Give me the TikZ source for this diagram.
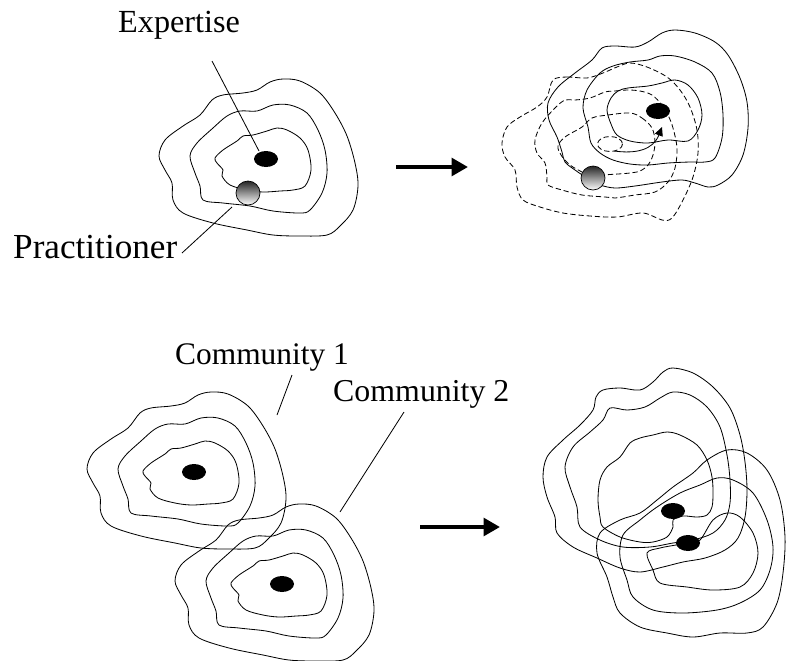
\documentclass[tikz,border=0pt]{standalone}
\usepackage{fontspec}
\setmainfont{Liberation Serif}
\usetikzlibrary{arrows.meta,shapes.geometric}

\begin{document}
\begin{tikzpicture}[x=0.03cm,y=-0.03cm,
  contour/.style={line width=0.7pt, line join=round},
  dcontour/.style={contour, dash pattern=on 4.5pt off 2.5pt},
  smoothloop/.style={smooth cycle, tension=0.55},
  core/.style={ellipse, fill=black, minimum width=0.72cm, minimum height=0.48cm, inner sep=0pt},
  member/.style={circle, draw=black, line width=0.6pt, top color=black!85, bottom color=white,
                 minimum size=0.72cm, inner sep=0pt},
  caption/.style={inner sep=0pt, anchor=base west},
  pointer/.style={line width=0.7pt},
  bigarrow/.style={line width=3.4pt, -{Triangle[length=14pt,width=15pt]}},
  % three nested level lines around one centre of expertise
  community/.pic={
    \draw[contour] plot[smoothloop] coordinates {(4,-77) (17,-80) (34,-78) (54,-66) (69,-46) (81,-23)
      (89,4) (92,27) (87,51) (74,67) (61,76) (34,77) (7,76) (-19,71) (-53,64) (-83,54) (-93,41)
      (-94,24) (-101,11) (-107,-3) (-101,-19) (-83,-33) (-66,-44) (-54,-59) (-43,-64) (-23,-66) (-9,-69)};
    \draw[contour] plot[smoothloop] coordinates {(7,-54) (24,-54) (41,-46) (52,-29) (59,-9) (61,14)
      (56,34) (44,51) (34,54) (7,52) (-16,47) (-43,44) (-63,41) (-66,27) (-71,14) (-76,-3) (-69,-16)
      (-53,-31) (-39,-43) (-26,-48) (-9,-48)};
    \draw[contour] plot[smoothloop] coordinates {(1,-28) (11,-31) (21,-29) (34,-21) (42,-9) (45,11)
      (39,27) (27,31) (14,32) (-3,33) (-19,31) (-36,26) (-44,17) (-43,11) (-49,4) (-51,-1) (-43,-9)
      (-29,-18) (-23,-23) (-13,-24)};
  }
]
\useasboundingbox (0,0) rectangle (786,660);
\clip (0,0) rectangle (786,660);

% ---------- single practitioner inside a community ----------
\pic at (266,159) {community};
\node[core] (core1) at (266,159) {};
\node[member] (member1) at (248,193) {};
\node[caption, font=\fontsize{27.5}{32}\selectfont] (expertise) at (118,32) {Expertise};
\node[caption, font=\fontsize{30}{34}\selectfont] (practitioner) at (13,258) {Practitioner};
\coordinate (expTail) at (212,61);
\coordinate (expHead) at (259,151);
\coordinate (pracHead) at (232,207);
\coordinate (pracTail) at (182,253);
\draw[pointer] (expTail) -- (expHead);
\draw[pointer] (pracHead) -- (pracTail);

\coordinate (a1s) at (396,167);
\coordinate (a1e) at (468,167);
\draw[bigarrow] (a1s) -- (a1e);

% ---------- practitioner moving towards the expertise ----------
\draw[contour] plot[smoothloop] coordinates {(592,60) (602,48) (615,46) (635,47) (648,42) (662,33)
  (675,30) (695,33) (715,42) (728,55) (740,78) (747,102) (748,128) (743,155) (732,175) (718,185)
  (708,187) (695,183) (682,180) (662,182) (635,186) (615,188) (600,185) (590,180) (575,170)
  (565,162) (562,152) (557,137) (549,120) (548,103) (558,87) (575,73)};
\draw[contour] plot[smoothloop] coordinates {(600,73) (613,66) (630,62) (648,60) (660,56) (675,56)
  (695,62) (712,73) (720,92) (723,115) (722,138) (715,158) (705,162) (690,162) (668,163) (648,165)
  (630,164) (613,160) (600,153) (591,143) (588,127) (583,108) (587,90)};
\draw[contour] plot[smoothloop] coordinates {(628,88) (648,86) (662,83) (675,80) (688,85) (698,98)
  (702,115) (698,130) (688,141) (668,140) (648,143) (630,141) (617,135) (611,124) (607,110)
  (611,98) (618,91)};
\draw[dcontour] plot[smoothloop] coordinates {(553,80) (567,77) (587,78) (603,73) (617,67) (630,63)
  (647,67) (667,77) (680,90) (690,107) (697,130) (698,153) (693,177) (683,200) (672,218) (662,220)
  (643,213) (617,217) (590,216) (563,213) (540,207) (523,200) (517,187) (515,170) (505,157)
  (502,143) (507,127) (520,117) (537,107) (547,97)};
\draw[dcontour] plot[smoothloop] coordinates {(605,92) (615,91) (628,90) (640,91) (652,95) (662,105)
  (668,115) (673,128) (677,148) (675,168) (668,182) (655,192) (635,195) (615,198) (605,197)
  (582,195) (562,190) (548,185) (547,177) (545,163) (537,153) (535,140) (542,123) (555,108)
  (565,100) (575,100) (590,98)};
\draw[dcontour] plot[smoothloop] coordinates {(630,113) (642,118) (652,128) (655,142) (653,155)
  (648,165) (640,171) (630,173) (618,174) (605,175) (593,178) (582,172) (570,165) (561,155)
  (558,146) (565,137) (582,127) (592,118) (608,115)};
\draw[dcontour] (610,144) ellipse [x radius=12.5, y radius=7.5];
\node[core] (core2) at (658,111) {};
\node[member] (member2) at (593,178) {};
\coordinate (stepTail) at (614,151);
\coordinate (stepTip) at (662,127);
\draw[contour, -{Triangle[length=7.5pt,width=7pt]}] (stepTail) .. controls (636,154) and (653,150) .. (stepTip);

% ---------- two communities ----------
\pic at (194,472) {community};
\pic at (282,584) {community};
\node[core] (core3) at (194,472) {};
\node[core] (core4) at (282,584) {};
\node[caption, font=\fontsize{26.8}{31}\selectfont] (comm1) at (175,364) {Community 1};
\node[caption, font=\fontsize{27.2}{31}\selectfont] (comm2) at (333,401) {Community 2};
\coordinate (c1Tail) at (292,375);
\coordinate (c1Head) at (277,415);
\coordinate (c2Tail) at (404,412);
\coordinate (c2Head) at (340,512);
\draw[pointer] (c1Tail) -- (c1Head);
\draw[pointer] (c2Tail) -- (c2Head);

\coordinate (a2s) at (420,527);
\coordinate (a2e) at (500,527);
\draw[bigarrow] (a2s) -- (a2e);

% ---------- merged communities ----------
\draw[contour] plot[smoothloop] coordinates {(663,372) (673,368) (693,373) (713,387) (730,408)
  (740,435) (745,462) (747,490) (745,517) (738,538) (725,550) (705,558) (683,562) (663,567)
  (640,572) (620,568) (597,558) (573,547) (557,533) (555,517) (547,497) (543,477) (547,457)
  (563,440) (580,425) (593,410) (596,397) (603,390) (620,388) (640,390) (653,382)};
\draw[contour] plot[smoothloop] coordinates {(673,392) (690,395) (707,407) (720,427) (727,455)
  (730,480) (730,503) (725,520) (713,533) (693,540) (673,543) (650,547) (623,547) (600,540)
  (580,527) (577,507) (570,487) (565,467) (573,447) (590,432) (603,420) (610,408) (627,410)
  (645,407) (660,398)};
\draw[contour] plot[smoothloop] coordinates {(667,432) (680,435) (697,445) (707,460) (712,477)
  (713,493) (712,507) (707,515) (697,517) (683,516) (673,520) (673,527) (667,537) (653,542)
  (640,542) (620,537) (603,527) (600,517) (598,500) (600,480) (607,467) (620,457) (630,443)
  (640,438) (653,435)};
\draw[contour] plot[smoothloop] coordinates {(600,533) (597,553) (607,577) (613,597) (620,613)
  (640,627) (667,633) (693,637) (720,633) (747,633) (763,627) (777,603) (783,573) (785,537)
  (780,500) (767,470) (747,453) (727,450) (707,460) (693,473) (673,487) (657,500) (640,513)
  (620,520)};
\draw[contour] plot[smoothloop] coordinates {(623,535) (640,520) (657,507) (680,493) (700,485)
  (717,478) (733,480) (753,493) (767,520) (773,547) (770,570) (760,590) (740,603) (717,610)
  (683,613) (653,610) (633,597) (627,580) (620,557)};
\draw[contour] plot[smoothloop] coordinates {(647,553) (653,570) (660,583) (687,587) (713,590)
  (740,587) (753,573) (758,553) (753,533) (740,517) (727,513) (713,520) (700,540) (688,543)
  (676,545) (660,548)};
\node[core] (core5) at (673,511) {};
\node[core] (core6) at (688,543) {};
\end{tikzpicture}
\end{document}
